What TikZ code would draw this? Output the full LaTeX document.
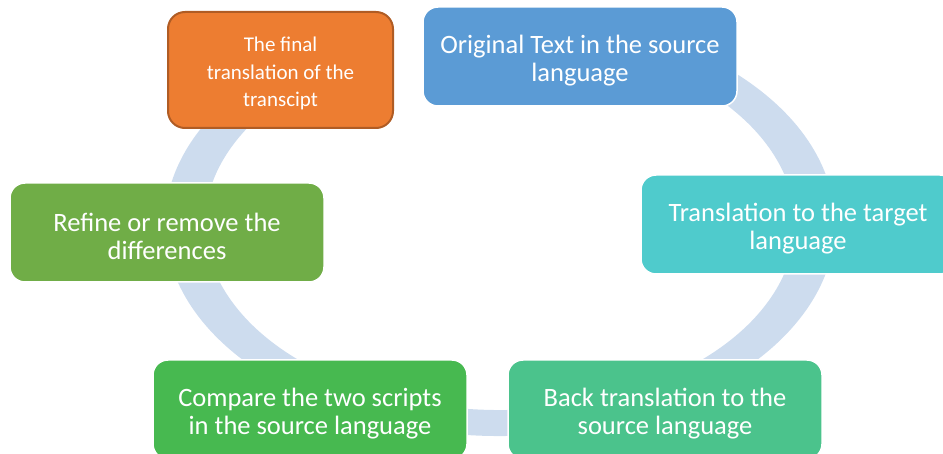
\documentclass[tikz,border=0pt]{standalone}
\usepackage{fontspec}
\setmainfont{Carlito}
\definecolor{ringblue}{RGB}{205,220,238}
\definecolor{orgfill}{RGB}{237,125,49}
\definecolor{orgline}{RGB}{176,92,36}
\definecolor{bluefill}{RGB}{91,155,213}
\definecolor{tealfill}{RGB}{79,203,204}
\definecolor{mintfill}{RGB}{75,195,140}
\definecolor{grassfill}{RGB}{71,185,80}
\definecolor{olivefill}{RGB}{112,173,71}
% invisible strut that lowers the text block a little inside its box
\newcommand\toppad[1]{\rule{0pt}{#1}}
\begin{document}
\begin{tikzpicture}[x=1pt,y=-1pt,
  stage/.style={rectangle, rounded corners=15pt, draw=white, line width=1.5pt,
    text=white, align=center, inner sep=0pt,
    minimum width=314pt, minimum height=99pt,
    font=\fontsize{26.5}{28}\selectfont},
  ring/.style={fill=ringblue}
]
\useasboundingbox (0,0) rectangle (943,454);
\clip (0,0) rectangle (943,454);

% elliptic cycle band behind the stages, open at the top
\fill[ring] ([shift={(500,224)}]-100:335 and 212)
  arc[start angle=-100, end angle=247, x radius=335, y radius=212]
  -- ([shift={(500,224)}]247:295 and 186)
  arc[start angle=247, end angle=-100, x radius=295, y radius=186]
  -- cycle;

% stages
\node[stage, fill=bluefill] (orig) at (580,56.5)
  {\toppad{26pt}Original Text in the source\\language};
\node[stage, fill=tealfill] (target) at (798,224.5)
  {\toppad{26pt}Translation to the target\\language};
\node[stage, fill=mintfill] (back) at (665,409.5)
  {\toppad{26pt}Back translation to the\\source language};
\node[stage, fill=grassfill] (compare) at (310,409.5)
  {\toppad{26pt}Compare the two scripts\\in the source language};
\node[stage, fill=olivefill] (refine) at (167,232.5)
  {\toppad{26pt}Refine or remove the\\differences};
\node[stage, fill=orgfill, draw=orgline, line width=2pt,
  rounded corners=17pt, minimum width=225pt, minimum height=116pt,
  font=\fontsize{21}{27.5}\selectfont] (final) at (280.5,70)
  {\toppad{22pt}The final\\translation of the\\transcipt};
\end{tikzpicture}
\end{document}
